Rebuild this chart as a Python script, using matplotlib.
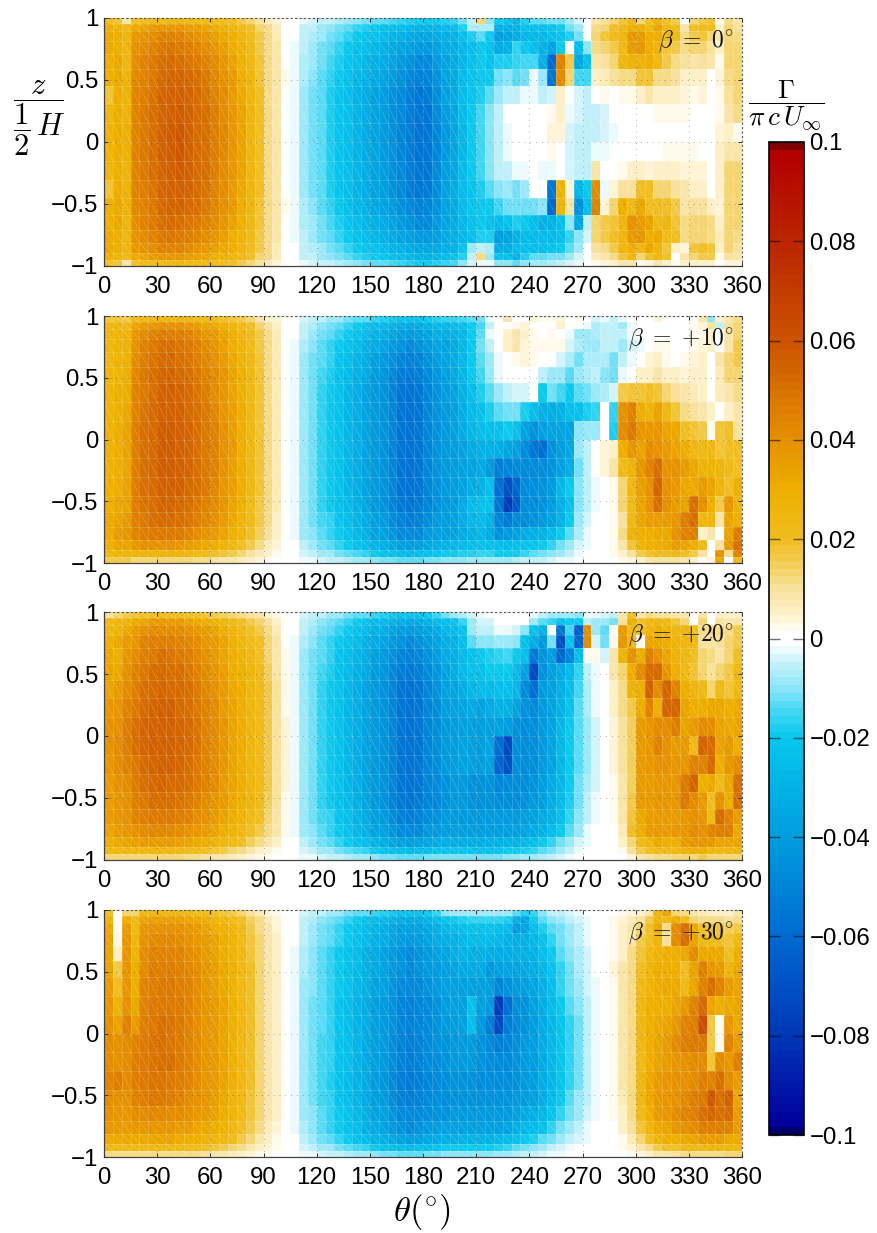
import numpy as np
import matplotlib
matplotlib.use('Agg')
import matplotlib.pyplot as plt
from matplotlib.collections import LineCollection
from matplotlib.colors import LinearSegmentedColormap

plt.rcParams['font.family'] = ['Liberation Sans', 'DejaVu Sans']
plt.rcParams['mathtext.fontset'] = 'cm'

W, H = 877, 1233

theta_ticks = [0, 30, 60, 90, 120, 150, 180, 210, 240, 270, 300, 330, 360]
z_ticks = [-1, -0.5, 0, 0.5, 1]
z_labels = ['\u22121', '\u22120.5', '0', '0.5', '1']
cb_ticks = [-0.1, -0.08, -0.06, -0.04, -0.02, 0, 0.02, 0.04, 0.06, 0.08, 0.1]
cb_labels = ['\u22120.1', '\u22120.08', '\u22120.06', '\u22120.04', '\u22120.02', '0', '0.02', '0.04', '0.06', '0.08', '0.1']
betas = [r'$\beta\ =\ 0^{\circ}$', r'$\beta\ =\ {+}10^{\circ}$', r'$\beta\ =\ {+}20^{\circ}$', r'$\beta\ =\ {+}30^{\circ}$']

# blade stations, 5 deg bins and cosine-like spacing in z
theta_edges = np.arange(0, 365, 5)
z_upper = [1, 0.951, 0.892, 0.811, 0.708, 0.589, 0.454, 0.303, 0.151, 0]
z_edges = np.array(z_upper + [-v for v in z_upper[-2::-1]])

# all values below are gamma*1000, one row per z band from the top, 6 values per 30 deg
# beta=0: theta 0-175 is nearly mirror symmetric, only upper half is kept
b0_left = [
 [20,18,8,20,21,22, 23,24,25,24,24,23, 22,21,19,17,13,10, 7,4,0, -1,-3,-4, -5,-6,-7,-9,-10,-11, -13,-14,-15,-17,-18,-19],
 [30,28,24,32,34,36, 38,38,38,36,35,33, 31,29,26,23,19,14, 11,7,0, -1,-5,-6, -8,-10,-12,-14,-16,-18, -20,-22,-24,-26,-28,-30],
 [32,30,26,38,40,42, 44,44,44,42,40,38, 35,32,30,26,21,16, 12,7,0, -1,-5,-7, -9,-12,-14,-16,-19,-21, -23,-26,-29,-31,-33,-35],
 [32,30,26,40,42,44, 48,49,48,46,44,41, 38,35,31,28,23,17, 12,8,1, -2,-6,-8, -11,-14,-16,-19,-22,-24, -27,-30,-33,-36,-39,-42],
 [30,32,26,42,44,47, 50,52,51,49,47,44, 41,38,33,29,24,18, 12,8,1, -2,-7,-9, -12,-15,-18,-21,-25,-27, -31,-34,-37,-41,-44,-47],
 [30,32,28,43,45,48, 52,54,54,52,50,47, 43,40,36,31,25,18, 12,8,2, -2,-7,-10, -13,-17,-19,-23,-27,-29, -33,-37,-40,-44,-48,-51],
 [18,31,28,44,46,49, 54,55,56,54,52,49, 45,42,37,32,26,19, 12,8,1, -2,-8,-11, -14,-18,-21,-25,-29,-32, -36,-40,-44,-48,-52,-55],
 [25,31,28,44,47,50, 54,56,57,55,53,50, 46,42,38,33,26,19, 12,8,1, -2,-8,-11, -14,-18,-21,-25,-29,-32, -36,-40,-44,-48,-52,-56],
 [28,31,29,45,47,50, 55,57,58,56,53,50, 46,43,38,33,26,19, 12,8,1, -2,-8,-11, -14,-18,-21,-25,-29,-33, -37,-41,-45,-49,-53,-57],
]
b0_right = [
 [-19,-19,-18,-17,-12,-5, 14,-10,-20,-22,-30,-18, -14,-14,-12,-12,-8,-4, 0,8,10,14,18,24, 14,20,28,20,16,1, 13,17,18,2,12,8],
 [-30,-29,-28,-26,-18,-7, -7,-7,-32,-30,-30,-25, -25,-24,-22,-20,-12,-9, 0,12,14,20,24,30, 30,24,34,26,22,8, 20,22,22,6,14,10],
 [-35,-34,-32,-30,-24,-18, -14,-20,-40,-36,-33,-27, -27,-28,-25,-22,-18,-12, 0,14,18,22,26,38, 36,30,30,24,22,12, 17,18,14,8,14,12],
 [-42,-38,-34,-32,-28,-24, -20,-22,-33,-30,-17,-20, -24,-30,-36,-20,-1,-24, -10,12,14,16,22,36, 38,30,28,18,16,12, 14,14,10,6,14,14],
 [-47,-42,-36,-34,-28,-22, -20,-22,-18,-18,-16,-15, -15,-30,-60,45,16,-35, -22,8,10,14,24,28, 28,30,24,16,12,10, 9,10,8,3,14,14],
 [-50,-44,-36,-33,-26,-21, -20,-19,-12,-10,-13,-11, -3,-9,-55,42,14,-15, -15,5,7,10,12,12, 18,18,12,12,10,6, 5,6,-1,4,12,14],
 [-54,-46,-38,-33,-26,-21, -18,-14,-8,-6,-5,-3, -2,-5,-4,6,0,-4, -6,0,3,0,2,3, 6,8,6,6,6,4, 3,4,0,3,10,14],
 [-56,-48,-40,-35,-26,-20, -15,-10,-6,0,0,0, 0,1,3,5,-3,-4, -6,-6,-4,-1,0,0, 0,1,2,2,2,2, 1,1,0,3,9,12],
 [-56,-50,-42,-35,-28,-20, -15,-10,-6,-2,0,0, 1,0,4,4,-4,-5, -6,-5,-4,-2,0,0, 0,1,0,1,1,1, 1,0,0,4,6,3],
 [-56,-50,-42,-35,-28,-20, -15,-10,-6,-3,0,0, 0,0,3,0,-4,-5, -6,-2,-3,0,0,0, 1,1,1,2,2,2, 2,1,0,5,8,8],
 [-56,-48,-40,-35,-26,-20, -15,-10,-6,-5,-3,-2, 0,-3,-2,0,-4,-5, -6,8,0,0,2,6, 6,4,6,5,5,4, 4,4,0,6,14,14],
 [-54,-46,-38,-33,-26,-21, -18,-14,-10,-8,-11,-8, 0,0,-55,28,4,-28, -20,42,-3,4,10,10, 20,20,14,14,10,8, 6,6,-1,6,14,14],
 [-50,-44,-36,-33,-26,-21, -20,-19,-15,-12,-12,-12, -11,-10,-60,26,8,-45, -24,44,4,14,30,22, 32,20,20,20,16,8, 10,10,6,4,14,14],
 [-47,-42,-36,-34,-28,-22, -20,-22,-26,-22,-18,-20, -24,-30,-30,-24,-10,-35, -5,14,16,18,26,40, 36,34,22,26,18,12, 14,14,12,6,14,14],
 [-42,-38,-34,-32,-28,-24, -18,-18,-40,-36,-30,-26, -26,-26,-26,-24,-16,-10, -4,14,16,20,26,36, 38,30,32,22,20,12, 14,14,12,7,14,12],
 [-35,-34,-32,-30,-22,-8, -6,-7,-34,-32,-26,-24, -24,-24,-22,-20,-14,-8, 0,10,12,16,26,30, 26,34,28,18,6,4, 18,20,18,5,14,10],
 [-30,-28,-26,-22,-18,-5, 12,-8,-22,-24,-30,-18, -14,-14,-12,-12,-8,-4, 0,7,8,12,18,26, 14,20,26,20,0,8, 14,16,16,2,10,8],
 [-19,-18,-17,-15,-10,-4, -2,-2,-10,-10,-14,-10, -8,-8,-7,-6,-4,-2, 0,2,4,5,8,8, 2,4,8,6,2,5, 5,6,6,1,4,4],
]

b10_left = [
 [18,18,16,22,24,25, 26,26,26,25,24,23, 22,20,18,16,13,9, 6,4,1, -1,-4,-5, -6,-8,-9,-11,-13,-14, -17,-18,-20,-22,-23,-22],
 [25,26,24,34,36,38, 40,40,40,38,36,34, 32,30,27,23,19,14, 10,6,1, -1,-6,-7, -10,-12,-14,-17,-20,-22, -26,-28,-31,-34,-35,-34],
 [26,28,27,38,42,44, 46,46,46,44,42,39, 36,33,30,26,21,16, 12,7,1, -1,-6,-9, -12,-14,-17,-19,-23,-26, -30,-32,-36,-40,-41,-40],
 [26,28,28,40,44,47, 50,50,49,47,44,41, 38,35,31,27,23,17, 12,7,1, -2,-7,-10, -13,-16,-19,-22,-26,-30, -34,-37,-41,-45,-47,-45],
 [26,28,29,42,46,49, 52,52,51,49,46,43, 40,36,32,28,24,18, 12,7,1, -2,-8,-11, -14,-17,-21,-24,-29,-32, -38,-41,-45,-50,-51,-50],
 [27,28,30,43,47,50, 54,54,53,51,48,45, 41,38,33,29,24,18, 12,7,1, -2,-9,-11, -15,-18,-22,-26,-30,-34, -40,-43,-48,-52,-54,-52],
 [27,29,31,44,48,51, 55,55,54,52,49,46, 42,38,34,29,24,18, 12,7,1, -2,-9,-12, -16,-19,-23,-27,-32,-36, -42,-45,-50,-55,-57,-55],
 [28,29,32,45,49,52, 56,56,55,53,50,47, 43,39,35,30,24,18, 12,7,1, -2,-9,-12, -16,-19,-23,-27,-32,-36, -42,-45,-50,-55,-57,-55],
 [28,30,33,46,50,53, 57,57,56,54,51,48, 44,40,35,30,24,18, 12,7,1, -2,-9,-12, -16,-19,-23,-27,-32,-36, -42,-45,-50,-55,-57,-55],
 [29,30,33,46,50,53, 57,57,56,54,51,48, 44,40,36,31,24,18, 12,7,1, -2,-9,-12, -16,-19,-23,-27,-32,-36, -42,-45,-50,-55,-57,-55],
 [29,30,34,46,50,53, 57,57,56,54,51,48, 44,40,35,30,24,18, 12,7,1, -2,-9,-12, -16,-19,-23,-27,-32,-36, -42,-45,-50,-55,-57,-55],
 [30,31,34,46,50,52, 56,56,55,53,50,47, 43,39,35,30,24,18, 12,7,1, -2,-9,-12, -16,-19,-23,-27,-32,-36, -42,-45,-50,-55,-57,-55],
 [30,32,34,46,49,51, 54,54,53,51,48,45, 42,38,34,29,23,17, 12,7,1, -2,-9,-12, -16,-19,-23,-26,-31,-35, -41,-44,-49,-54,-56,-54],
 [32,34,36,46,48,50, 52,52,51,49,46,43, 40,36,32,27,22,16, 11,6,1, -2,-8,-11, -15,-17,-21,-25,-29,-33, -39,-41,-46,-51,-52,-51],
 [32,36,38,44,46,48, 48,48,47,45,42,39, 36,33,29,25,20,15, 10,6,1, -2,-8,-10, -14,-16,-20,-23,-27,-31, -36,-38,-43,-47,-48,-47],
 [30,34,34,38,40,40, 40,40,39,37,35,32, 30,27,24,20,16,11, 7,4,1, -1,-6,-8, -11,-13,-16,-19,-22,-25, -29,-32,-35,-39,-40,-39],
 [26,28,28,28,28,28, 28,28,27,26,24,22, 20,18,16,13,10,7, 5,2,0, -1,-4,-6, -8,-9,-11,-13,-15,-17, -20,-22,-24,-26,-27,-26],
 [16,16,16,14,14,14, 14,14,14,13,12,11, 10,9,8,7,5,4, 2,1,0, -1,-2,-3, -4,-5,-6,-7,-8,-9, -10,-11,-12,-14,-14,-14],
]
b10_right = [
 [-20,-18,-17,-16,-15,-14, -12,-3,0,8,0,0, 4,2,3,4,1,3, -1,-4,-3,-6,-2,0, 0,0,4,0,0,0, 0,8,-10,6,8,12],
 [-31,-28,-28,-26,-24,-20, -15,-5,0,1,2,4, 0,0,1,6,0,0, -3,-7,-6,-6,-8,-3, 0,0,1,1,0,1, 2,4,10,-5,10,14],
 [-36,-32,-32,-30,-28,-20, -13,-3,0,5,8,5, 2,1,3,1,-2,-8, -8,-7,-5,-5,-6,-2, 0,0,1,1,0,0, 2,3,6,0,9,14],
 [-41,-37,-36,-34,-28,-20, -12,-6,0,6,8,4, 3,3,2,2,-4,-7, -8,-8,-6,-6,-9,-4, -2,0,2,3,1,1, 2,4,5,0,8,16],
 [-45,-40,-36,-33,-28,-20, -14,-9,-2,0,3,4, 3,0,0,-4,-7,-12, -7,-7,-7,-12,-5,-2, 0,4,6,2,1,3, 4,5,0,8,14,16],
 [-47,-43,-38,-33,-28,-20, -15,-8,-2,0,1,1, -1,-5,-8,-8,-13,-9, -7,-6,-10,-12,-2,1, 5,6,8,6,6,4, 5,5,0,7,13,14],
 [-50,-45,-40,-36,-30,-24, -18,-14,-8,-6,-4,-4, -1,-20,-12,-15,-20,-14, -12,-9,-7,-4,16,18, 18,20,18,14,10,8, 7,6,0,7,9,12],
 [-50,-45,-42,-38,-32,-26, -22,-18,-14,-12,-12,-18, -24,-30,-32,-30,-24,-22, -18,-16,-1,-16,40,44, 30,28,34,24,18,12, 10,8,6,0,5,8],
 [-50,-45,-42,-38,-34,-28, -24,-24,-22,-20,-22,-36, -44,-38,-36,-36,-36,-10, -8,-8,-1,-18,42,48, 38,38,38,33,32,20, 18,16,2,18,20,10],
 [-50,-45,-42,-40,-36,-34, -30,-30,-32,-35,-38,-46, -56,-58,-44,-40,-35,-8, -5,0,4,5,30,38, 34,42,40,36,34,30, 24,24,24,18,20,20],
 [-50,-45,-42,-40,-38,-36, -34,-42,-52,-50,-48,-48, -48,-46,-44,-38,-34,-12, -5,0,4,8,22,28, 38,45,50,40,40,36, 32,28,28,26,22,20],
 [-50,-45,-42,-40,-36,-32, -30,-24,-58,-70,-62,-48, -46,-44,-42,-28,-20,-10, -6,-3,0,3,14,24, 35,40,54,40,38,32, 32,36,34,26,20,30],
 [-49,-44,-42,-40,-34,-26, -22,-22,-56,-78,-66,-46, -46,-44,-40,-30,-22,-10, -6,-2,0,3,14,22, 34,40,50,40,36,34, 50,40,30,16,38,28],
 [-46,-41,-40,-38,-34,-27, -26,-30,-50,-54,-48,-46, -44,-42,-38,-30,-20,-8, -4,-1,0,2,10,24, 34,36,36,36,38,46, 50,26,26,8,34,30],
 [-42,-38,-38,-36,-34,-30, -28,-34,-44,-42,-38,-34, -32,-30,-26,-20,-14,-7, -3,-1,0,2,12,28, 30,30,32,32,40,44, 46,6,8,0,34,48],
 [-35,-32,-30,-28,-26,-24, -23,-24,-26,-26,-25,-23, -21,-19,-16,-12,-8,-4, -2,0,0,3,9,18, 28,30,30,32,36,34, 30,22,-1,10,36,50],
 [-24,-22,-20,-20,-18,-18, -16,-16,-20,-20,-19,-16, -13,-12,-10,-8,-5,-3, -1,0,0,2,5,10, 16,20,22,22,24,20, 16,10,-1,40,12,44],
 [-12,-12,-10,-10,-10,-9, -8,-8,-8,-8,-7,-6, -5,-5,-4,-3,-2,-1, 0,0,0,1,2,4, 6,8,10,10,10,8, 6,2,4,34,0,24],
]

b20_left = [
 [10,14,16,18,20,20, 21,21,21,20,19,18, 17,15,13,12,10,8, 6,3,0, -1,-4,-5, -6,-8,-9,-11,-13,-14, -17,-18,-20,-22,-23,-22],
 [24,26,28,32,34,36, 36,36,36,34,32,30, 28,26,23,20,17,14, 10,6,1, -1,-6,-7, -10,-12,-14,-17,-20,-22, -26,-28,-31,-34,-35,-34],
 [26,28,32,36,40,42, 42,42,42,40,38,36, 33,30,27,24,20,17, 12,7,1, -1,-6,-9, -12,-14,-17,-19,-23,-26, -30,-32,-36,-40,-41,-40],
 [30,32,36,38,44,46, 46,46,45,43,41,38, 36,33,29,26,22,19, 13,8,1, -2,-7,-10, -13,-16,-19,-22,-26,-30, -34,-37,-41,-45,-47,-45],
 [32,30,38,42,46,48, 50,49,48,46,43,40, 37,34,30,27,24,20, 14,9,2, -2,-8,-11, -14,-17,-21,-24,-29,-32, -38,-41,-45,-50,-51,-50],
 [34,32,40,44,48,50, 52,51,50,48,45,42, 39,35,31,29,25,21, 15,9,3, -2,-9,-11, -15,-18,-22,-26,-30,-34, -40,-43,-48,-52,-54,-52],
 [34,36,42,46,50,52, 54,53,52,50,47,43, 40,37,32,30,26,22, 16,10,3, -2,-9,-12, -16,-19,-23,-27,-32,-36, -42,-45,-50,-55,-57,-55],
 [38,38,44,48,52,54, 56,55,53,51,48,44, 41,37,33,30,26,22, 16,10,3, -2,-9,-12, -16,-19,-23,-27,-32,-36, -42,-45,-50,-55,-57,-55],
 [40,40,46,50,54,55, 56,56,54,52,49,45, 41,38,33,30,26,22, 16,10,4, -2,-9,-12, -16,-19,-23,-27,-32,-36, -42,-45,-50,-55,-57,-55],
 [40,42,46,50,54,56, 56,56,54,52,49,45, 42,38,33,30,26,22, 16,10,4, -2,-9,-12, -16,-19,-23,-27,-32,-36, -42,-45,-50,-55,-57,-55],
 [38,42,44,48,52,54, 56,55,54,51,48,45, 41,38,33,30,26,22, 16,10,4, -2,-9,-12, -16,-19,-23,-27,-32,-36, -42,-45,-50,-55,-57,-55],
 [36,40,42,47,50,52, 54,53,52,50,47,44, 41,37,33,30,26,22, 16,10,4, -2,-9,-12, -16,-19,-23,-27,-32,-36, -42,-45,-50,-55,-57,-55],
 [36,38,40,46,48,50, 51,51,49,47,45,42, 39,36,32,29,25,21, 15,10,3, -2,-9,-12, -16,-19,-23,-26,-31,-35, -41,-44,-49,-54,-56,-54],
 [36,38,40,44,46,47, 48,47,46,44,42,40, 37,34,30,27,23,19, 14,9,3, -2,-8,-11, -15,-17,-21,-25,-29,-33, -39,-41,-46,-51,-52,-51],
 [34,36,38,40,42,43, 43,43,42,40,38,36, 34,31,27,24,20,17, 12,8,2, -2,-8,-10, -14,-16,-20,-23,-27,-31, -36,-38,-43,-47,-48,-47],
 [30,32,34,35,36,36, 36,36,35,34,32,30, 28,26,22,19,15,12, 8,5,1, -1,-6,-8, -11,-13,-16,-19,-22,-25, -29,-32,-35,-39,-40,-39],
 [24,25,25,25,25,25, 25,25,24,23,22,20, 18,16,14,11,8,6, 4,2,0, -1,-4,-6, -8,-9,-11,-13,-15,-17, -20,-22,-24,-26,-27,-26],
 [14,14,14,14,14,14, 13,13,13,12,11,10, 9,8,7,6,4,3, 2,1,0, -1,-2,-3, -4,-5,-6,-7,-8,-9, -10,-11,-12,-14,-14,-14],
]
b20_right = [
 [-20,-16,-12,-9,-7,-4, -2,-1,0,0,1,0, -2,-5,-8,-9,-8,-10, -2,-3,-4,-5,8,20, 8,12,10,10,8,8, 0,8,-1,6,5,5],
 [-31,-28,-24,-22,-16,-8, -4,-4,-1,0,0,1, -8,-14,-16,-22,-20,-20, -6,-9,-9,-12,10,30, 20,24,24,24,18,14, 1,14,-1,10,8,8],
 [-36,-33,-28,-26,-22,-8, -6,-6,-3,-3,-4,-10, -22,-30,0,-55,-15,-65, 42,-8,-14,0,36,24, 20,28,30,28,26,26, 20,12,12,12,12,16],
 [-41,-37,-32,-30,-24,-14, -10,-10,-8,-8,-10,-22, -32,-42,-12,-70,-22,-62, 42,-4,-12,3,38,24, 2,34,32,30,28,26, 22,10,10,10,14,16],
 [-45,-40,-34,-32,-26,-22, -20,-18,-17,-15,-20,-24, -54,-44,-40,-60,-50,-24, 2,2,-4,8,28,40, 30,46,40,34,28,24, 20,14,12,8,14,20],
 [-47,-43,-36,-32,-26,-22, -22,-20,-20,-20,-26,-36, -72,-44,-38,-34,-26,-16, -6,-2,0,8,14,30, 42,52,52,38,30,22, 18,14,10,13,16,24],
 [-50,-45,-38,-36,-32,-28, -26,-26,-24,-24,-28,-46, -58,-42,-38,-32,-24,-15, -7,-3,0,6,12,28, 30,56,42,54,44,30, 26,22,14,22,18,24],
 [-50,-46,-40,-38,-36,-34, -36,-34,-30,-30,-36,-44, -48,-42,-36,-30,-22,-14, -7,-3,0,5,12,16, 30,44,30,54,54,34, 30,30,32,32,30,32],
 [-50,-46,-42,-40,-38,-38, -40,-38,-38,-40,-44,-46, -46,-42,-36,-28,-20,-13, -8,-4,0,4,10,15, 36,38,42,42,46,34, 36,42,42,34,32,34],
 [-50,-46,-42,-40,-36,-38, -40,-36,-58,-72,-46,-46, -46,-42,-36,-28,-20,-13, -8,-4,0,4,10,15, 36,38,44,40,36,36, 22,54,52,34,36,30],
 [-50,-46,-42,-40,-38,-38, -40,-38,-62,-70,-46,-46, -46,-42,-36,-28,-20,-13, -8,-4,0,4,10,15, 36,38,40,40,38,38, 44,44,52,30,38,42],
 [-50,-48,-44,-42,-42,-44, -44,-44,-50,-48,-46,-46, -44,-40,-34,-27,-20,-12, -7,-4,0,3,9,15, 36,36,38,38,38,48, 54,30,32,22,32,50],
 [-49,-47,-44,-42,-42,-44, -44,-44,-46,-46,-46,-44, -42,-38,-32,-26,-18,-11, -6,-3,0,3,8,16, 36,36,38,38,38,48, 42,36,20,40,30,50],
 [-46,-45,-42,-42,-42,-42, -42,-42,-42,-42,-42,-40, -38,-34,-30,-24,-16,-10, -5,-2,0,2,8,18, 32,36,36,36,36,38, 40,38,22,52,44,36],
 [-42,-41,-40,-40,-40,-40, -40,-40,-40,-40,-38,-36, -34,-30,-26,-20,-14,-8, -3,0,0,1,7,20, 30,36,36,36,38,38, 42,40,44,46,46,32],
 [-35,-33,-32,-32,-32,-32, -32,-32,-32,-30,-30,-28, -24,-20,-16,-12,-8,-4, -2,0,0,1,6,14, 22,26,32,30,30,36, 38,38,38,34,34,34],
 [-24,-23,-22,-22,-22,-22, -22,-22,-22,-20,-20,-18, -16,-14,-11,-8,-5,-3, -1,0,0,1,3,10, 16,20,22,22,24,28, 30,30,26,26,26,28],
 [-12,-12,-12,-12,-12,-12, -12,-12,-12,-10,-10,-8, -8,-7,-6,-4,-3,-1, 0,0,0,0,1,4, 8,10,12,12,13,14, 14,16,14,14,14,14],
]

b30_left = [
 [20,1,14,14,24,25, 25,25,25,24,23,22, 20,18,16,13,10,7, 4,2,0, -1,-4,-5, -6,-8,-9,-11,-13,-14, -17,-18,-20,-22,-23,-22],
 [28,1,30,22,34,35, 35,35,35,34,32,30, 28,26,23,19,15,11, 7,4,1, -1,-6,-7, -10,-12,-14,-17,-20,-22, -26,-28,-31,-34,-35,-34],
 [32,1,36,24,38,40, 40,40,40,38,36,34, 31,29,26,22,17,12, 8,4,1, -1,-6,-8, -11,-13,-16,-19,-22,-25, -29,-32,-35,-39,-40,-39],
 [34,2,38,26,40,42, 43,43,42,40,38,36, 33,30,27,23,18,13, 8,5,1, -1,-6,-9, -12,-14,-17,-19,-23,-26, -30,-32,-36,-40,-41,-40],
 [34,6,38,28,42,44, 45,45,44,42,40,37, 34,31,28,24,18,13, 9,5,1, -2,-7,-10, -13,-16,-19,-22,-26,-30, -34,-37,-41,-45,-47,-45],
 [34,16,38,30,42,46, 46,46,45,43,41,38, 35,32,29,24,19,14, 9,5,1, -2,-7,-10, -13,-16,-19,-22,-26,-30, -34,-37,-41,-45,-47,-45],
 [36,20,38,30,44,46, 47,47,46,44,41,38, 35,32,29,24,19,14, 9,5,1, -2,-8,-10, -14,-16,-20,-23,-27,-31, -36,-38,-43,-47,-48,-47],
 [38,28,40,32,44,47, 48,48,47,44,42,39, 36,33,29,24,19,14, 9,5,1, -2,-8,-11, -14,-17,-21,-24,-29,-32, -38,-41,-45,-50,-51,-50],
 [40,34,44,36,46,48, 50,49,47,45,42,39, 36,33,29,24,19,14, 9,5,1, -2,-8,-11, -14,-17,-21,-24,-29,-32, -38,-41,-45,-50,-51,-50],
 [42,40,42,44,47,49, 50,49,48,45,42,39, 36,33,29,24,19,14, 9,5,1, -2,-8,-11, -15,-17,-21,-25,-29,-33, -39,-41,-46,-51,-52,-51],
 [42,40,42,46,48,49, 50,50,48,45,42,39, 36,33,29,24,19,14, 9,5,1, -2,-8,-11, -15,-17,-21,-25,-29,-33, -39,-41,-46,-51,-52,-51],
 [44,46,42,46,48,49, 49,48,46,44,42,39, 36,33,29,24,19,14, 9,5,1, -2,-9,-11, -15,-18,-22,-26,-30,-34, -40,-43,-48,-52,-54,-52],
 [42,40,40,44,46,47, 47,46,44,42,40,38, 35,32,28,24,18,13, 9,5,1, -2,-8,-11, -15,-17,-21,-25,-29,-33, -39,-41,-46,-51,-52,-51],
 [40,38,38,42,42,43, 43,42,41,40,38,36, 33,30,27,23,18,13, 8,5,1, -2,-8,-10, -14,-16,-20,-23,-27,-31, -36,-38,-43,-47,-48,-47],
 [38,36,36,38,38,39, 39,38,37,36,34,32, 30,27,24,20,16,11, 7,4,1, -2,-7,-10, -13,-16,-19,-22,-26,-30, -34,-37,-41,-45,-47,-45],
 [32,32,32,32,32,33, 33,33,32,31,30,28, 26,24,21,17,13,9, 6,3,1, -1,-6,-8, -11,-13,-16,-19,-22,-25, -29,-32,-35,-39,-40,-39],
 [24,24,24,24,24,24, 24,24,24,23,22,20, 18,16,14,12,9,6, 4,2,0, -1,-4,-6, -8,-9,-11,-13,-15,-17, -20,-22,-24,-26,-27,-26],
 [12,12,12,12,12,12, 12,12,12,11,11,10, 9,8,7,6,4,3, 2,1,0, -1,-2,-3, -4,-5,-6,-7,-8,-9, -10,-11,-12,-14,-14,-14],
]
b30_right = [
 [-20,-16,-10,-9,-8,-8, -8,-8,-8,-9,-14,-18, -16,-10,-6,-5,-4,-3, -1,0,0,1,3,4, 5,8,26,34,14,12, 8,7,6,6,6,8],
 [-31,-26,-22,-20,-18,-17, -17,-16,-17,-18,-32,-36, -20,-14,-10,-8,-6,-4, -2,0,0,2,4,7, 10,16,28,24,30,22, 14,12,12,12,10,12],
 [-35,-32,-28,-26,-24,-22, -22,-22,-24,-26,-40,-36, -26,-18,-14,-11,-8,-5, -2,0,0,2,5,9, 14,20,32,12,42,50, 32,20,20,18,15,16],
 [-36,-34,-32,-30,-28,-26, -26,-26,-28,-30,-32,-30, -28,-22,-17,-12,-9,-6, -3,0,0,2,6,9, 16,20,28,10,42,50, 34,24,22,20,18,24],
 [-41,-39,-36,-32,-30,-30, -30,-32,-34,-32,-32,-30, -30,-25,-19,-14,-10,-7, -4,-1,0,3,6,11, 18,24,28,30,30,32, 42,32,32,32,20,30],
 [-41,-40,-38,-36,-34,-34, -34,-42,-38,-36,-36,-34, -32,-27,-21,-16,-11,-7, -4,-1,0,4,8,12, 20,26,30,30,30,20, 34,44,38,36,26,32],
 [-44,-42,-38,-38,-38,-38, -38,-40,-50,-44,-42,-38, -36,-30,-24,-17,-12,-8, -4,-2,0,3,8,12, 22,28,30,32,32,22, 34,44,50,44,36,34],
 [-47,-44,-40,-38,-38,-22, -38,-42,-78,-58,-46,-44, -38,-32,-26,-19,-14,-10, -5,-2,0,3,8,12, 24,30,30,30,34,36, 44,52,34,30,32,34],
 [-47,-44,-42,-40,-38,-24, -42,-52,-72,-52,-48,-44, -40,-34,-28,-21,-16,-11, -6,-3,0,3,8,12, 24,30,32,34,38,44, 46,62,16,2,38,32],
 [-48,-45,-44,-42,-42,-42, -44,-48,-52,-50,-46,-42, -40,-34,-28,-21,-16,-11, -6,-3,0,3,8,12, 24,30,34,36,42,46, 48,48,16,2,44,36],
 [-48,-46,-44,-42,-42,-42, -44,-46,-48,-48,-44,-42, -40,-34,-28,-21,-16,-11, -6,-3,0,3,8,12, 22,30,34,36,38,40, 42,42,18,42,38,46],
 [-50,-47,-46,-44,-44,-44, -46,-46,-46,-46,-44,-42, -40,-34,-28,-21,-16,-11, -6,-3,0,3,8,12, 24,32,36,38,40,40, 42,46,44,50,42,36],
 [-48,-46,-46,-44,-44,-44, -44,-44,-44,-44,-42,-40, -38,-32,-26,-20,-14,-9, -5,-2,0,3,7,12, 24,32,36,38,40,42, 46,48,58,50,56,34],
 [-46,-44,-44,-42,-42,-42, -42,-42,-42,-42,-38,-34, -32,-27,-21,-16,-12,-8, -4,-2,0,2,6,11, 22,30,36,38,42,44, 46,50,54,50,52,36],
 [-42,-40,-38,-38,-38,-38, -38,-38,-38,-36,-32,-28, -26,-22,-16,-12,-9,-6, -3,-1,0,1,5,10, 18,26,32,34,38,40, 42,46,46,46,44,36],
 [-35,-33,-32,-32,-30,-30, -30,-30,-28,-26,-24,-20, -18,-14,-11,-8,-6,-4, -2,0,0,1,3,7, 14,20,26,30,30,32, 34,36,36,36,32,32],
 [-24,-22,-20,-20,-20,-20, -20,-20,-18,-16,-14,-12, -10,-8,-6,-4,-3,-1, 0,0,0,1,2,4, 9,12,16,20,20,24, 24,24,26,26,26,26],
 [-12,-11,-10,-10,-10,-10, -10,-10,-9,-8,-7,-6, -5,-4,-3,-2,-1,-1, 0,0,0,0,1,2, 4,6,8,9,10,11, 12,12,12,12,13,13],
]

# colormap, low end pushed a little so the cells come out like the original
cm_vals = [-0.1, -0.0984, -0.08, -0.06, -0.04, -0.02, -0.015, -0.01, -0.0044, -0.001, 0.001, 0.0043, 0.0104, 0.015, 0.02, 0.03, 0.04, 0.06, 0.08, 0.0984, 0.1]
cm_cols = [(0, 0, .42), (0, 0, .62), (0, .22, .72), (0, .42, .82), (0, .62, .87), (.03, .78, .93), (.25, .84, .95), (.55, .9, .97), (.8, .95, .98), (1, 1, 1),
           (1, 1, 1), (1, .95, .82), (.97, .88, .6), (.95, .81, .35), (.94, .74, .12), (.93, .69, 0), (.9, .57, 0), (.8, .33, 0), (.73, .15, 0), (.7, 0, 0), (.5, 0, 0)]
cmap = LinearSegmentedColormap.from_list('gam', [((v + 0.1) / 0.2, c) for v, c in zip(cm_vals, cm_cols)], N=128)


def to_fig(x0, y0, x1, y1):
	return [x0 / W, 1 - y1 / H, (x1 - x0) / W, (y1 - y0) / H]


def seams(ax):
	# light seams left by the triangulated mesh in the original export
	segs = []
	for t in theta_edges:
		segs.append([(t, z_edges[0]), (t, z_edges[-1])])
	for z in z_edges:
		segs.append([(theta_edges[0], z), (theta_edges[-1], z)])
	for i in range(len(theta_edges) - 1):
		for j in range(len(z_edges) - 1):
			segs.append([(theta_edges[i], z_edges[j]), (theta_edges[i + 1], z_edges[j + 1])])
	ax.add_collection(LineCollection(segs, colors='white', linewidths=0.55, alpha=0.2, zorder=2))


def panel(box, data, label, fs=17.3):
	ax = fig.add_axes(to_fig(*box))
	mesh = ax.pcolormesh(theta_edges, z_edges, np.array(data) / 1000.0, cmap=cmap, vmin=-0.1, vmax=0.1, zorder=1, linewidth=0, rasterized=True)
	seams(ax)
	ax.set_xlim(0, 360)
	ax.set_ylim(-1, 1)
	ax.set_xticks(theta_ticks)
	ax.set_yticks(z_ticks)
	ax.set_yticklabels(z_labels)
	ax.tick_params(direction='in', length=3, width=0.7, color='#333333', labelsize=fs, top=True, right=True)
	ax.tick_params(axis='x', pad=7)
	ax.tick_params(axis='y', pad=4)
	ax.set_axisbelow(False)
	ax.grid(True, linestyle=(0, (1, 6)), linewidth=0.6, color='#222222', alpha=0.5, zorder=3)
	for s in ['top', 'right']:
		ax.spines[s].set_linestyle((0, (1, 3)))
		ax.spines[s].set_linewidth(0.8)
		ax.spines[s].set_color('#555555')
	for s in ['left', 'bottom']:
		ax.spines[s].set_linewidth(0.9)
		ax.spines[s].set_color('#444444')
	ax.text(0.988, 0.905, label, transform=ax.transAxes, ha='right', va='center', fontsize=17, color='#111111', zorder=5)
	return mesh


fig = plt.figure(figsize=(W / 100, H / 100), dpi=100)

b0_rows = b0_left + b0_left[::-1]
panels = [
	((104, 18, 742, 266), np.hstack([b0_rows, b0_right]), betas[0]),
	((104, 316, 742, 563), np.hstack([b10_left, b10_right]), betas[1]),
	((104, 612, 742, 860), np.hstack([b20_left, b20_right]), betas[2]),
	((104, 910, 742, 1157), np.hstack([b30_left, b30_right]), betas[3]),
]
for box, data, label in panels:
	mesh = panel(box, data, label)

cax = fig.add_axes(to_fig(769, 142, 804, 1135))
cb = fig.colorbar(mesh, cax=cax, ticks=cb_ticks)
cb.ax.set_yticklabels(cb_labels)
cb.ax.tick_params(direction='in', length=8, width=1.0, color='#00000090', labelsize=17.3, pad=4, left=True, right=True)
cb.outline.set_linewidth(1.2)
cb.outline.set_edgecolor('black')

fig.text(39 / W, 1 - 118 / H, r'$\dfrac{z}{\dfrac{1}{2}\,H}$', fontsize=22, ha='center', va='center')
fig.text(786 / W, 1 - 105 / H, r'$\dfrac{\Gamma}{\pi\,c\,U_{\infty}}$', fontsize=19.5, ha='center', va='center')
fig.text(422 / W, 1 - 1212 / H, r'$\theta(^{\circ})$', fontsize=25, ha='center', va='center')

fig.savefig('out.png', dpi=100)
